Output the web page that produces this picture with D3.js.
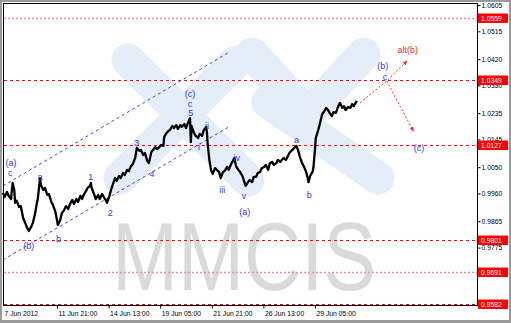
<!DOCTYPE html>
<html><head><meta charset="utf-8">
<script src="https://cdn.jsdelivr.net/npm/d3@7"></script>
<style>
html,body{margin:0;padding:0;background:#9a9a9a;}
svg{display:block;}
text{font-family:"Liberation Sans",Arial,sans-serif;}
</style></head>
<body>
<svg id="c" width="511" height="323"></svg>
<script>
// ---- data ----
const barIdx = [0,2,5,7,10,11,12,14,15,17,20,22,25,27,30,32,35,37,40,42,43,46,47,50,52,55,57,60,62,65,67,68,71,73,76,78,81,83,86,88,91,93,96,98,100,103,105,108,109,110,113,115,118,120,123,125,128,129,132,134,136,139,141,144,146,149,151,154,156,159,161,164,166,169,171,174,176,179,181,184,186,189,191,194,196,199,200,202,205,207,210,212,215,217,220,222,225,227,230,232,233,234,237,239,242,244,247,249,252,253,254,256,258,260,263,265,268,270,273,275,278,280,283,285,287,289,292,294,297,299,301,304,306,309,311,314,316,319,321,324,326,329,331,334,336,339,341,344,346,348,351,354,356,359,361,364,366,368,371,373,376,378,379,381,384,385,387,388,391,393,396,398,401,403,406,408,410,413,416,418,421,423,425,428,431,433,435,438,439];
const price = [0.9962,0.9948,0.9965,0.9952,0.9941,0.9972,0.9996,0.9972,0.9928,0.9935,0.9914,0.9917,0.9876,0.9863,0.9842,0.9832,0.9846,0.9859,0.9893,0.9928,0.9938,1.0013,0.9989,0.9972,0.9979,0.9955,0.9958,0.9931,0.9921,0.9897,0.9869,0.9852,0.9869,0.9893,0.9904,0.9917,0.9907,0.9924,0.9938,0.9924,0.9941,0.9931,0.9952,0.9941,0.9955,0.9969,0.9979,0.9986,0.9996,0.9979,0.9958,0.9941,0.9955,0.9941,0.9958,0.9948,0.9935,0.9928,0.9952,0.9972,0.9989,1.0013,1.0003,1.0020,1.0013,1.0030,1.0023,1.0041,1.0037,1.0054,1.0061,1.0082,1.0116,1.0106,1.0109,1.0092,1.0099,1.0071,1.0064,1.0102,1.0109,1.0119,1.0112,1.0119,1.0126,1.0123,1.0153,1.0164,1.0174,1.0177,1.0191,1.0184,1.0194,1.0181,1.0194,1.0188,1.0198,1.0184,1.0205,1.0218,1.0136,1.0191,1.0167,1.0157,1.0150,1.0164,1.0157,1.0177,1.0188,1.0167,1.0126,1.0075,1.0041,1.0027,1.0047,1.0041,1.0034,1.0013,1.0034,1.0037,1.0051,1.0041,1.0061,1.0071,1.0082,1.0054,1.0041,1.0034,1.0020,1.0003,0.9986,0.9999,1.0006,0.9999,1.0017,1.0017,1.0030,1.0034,1.0047,1.0051,1.0058,1.0041,1.0064,1.0068,1.0058,1.0064,1.0075,1.0068,1.0075,1.0082,1.0075,1.0092,1.0102,1.0109,1.0116,1.0123,1.0109,1.0088,1.0064,1.0054,1.0034,1.0013,0.9999,1.0020,1.0034,1.0047,1.0109,1.0150,1.0177,1.0198,1.0232,1.0239,1.0253,1.0246,1.0232,1.0225,1.0239,1.0236,1.0259,1.0270,1.0253,1.0259,1.0246,1.0256,1.0253,1.0266,1.0259,1.0273,1.0277];

const yTicks = [1.0605,1.0515,1.0420,1.0330,1.0235,1.0145,1.0050,0.9960,0.9865,0.9775,0.9685];
const xTickIdx = [0,67,131,195,259,323,387];
const xTickLabels = ["7 Jun 2012","11 Jun 21:00","14 Jun 13:00","19 Jun 05:00","21 Jun 21:00","26 Jun 13:00","29 Jun 05:00"];

const levels = [1.0559,1.0349,1.0127,0.9801,0.9691,0.9582];
const levelLight = [true,false,false,false,true,false];

// channel lines: [idx0, price0, idx1, price1]
const channelUpper = [0,0.9986,279,1.0441];
const channelLower = [0,0.9733,282,1.0191];

// projection paths (idx, price)
const projIdx = [443,476,501];
const projPrice = [1.0270,1.0345,1.0413];
const projAltIdx = [476,509];
const projAltPrice = [1.0345,1.0174];

// wave labels
const waveText = ["(a)","c","a","(b)","b","1","2","3","4","(c)","c","5","i","ii","iii","iv","v","(a)","a","b","(b)","c","(c)","alt(b)"];
const waveIdx  = [10,9,46,32,69,109,133,166,185,232,232,233,243,253,272,290,299,300,364,380,471,474,516,502];
const wavePrice= [1.0064,1.0030,1.0017,0.9781,0.9805,1.0017,0.9893,1.0133,1.0027,1.0301,1.0266,1.0236,1.0119,1.0191,0.9972,1.0082,0.9950,0.9897,1.0143,0.9955,1.0396,1.0359,1.0116,1.0451];
const waveRed  = [0,0,0,0,0,0,0,0,0,0,0,0,0,0,0,0,0,0,0,0,0,0,0,1];

// ---- drawing ----
const svg = d3.select("#c");
const x = d3.scaleLinear().domain([0,588]).range([3,477]);
const y = d3.scaleLinear().domain([0.9582,1.0605]).range([304,5]);

svg.append("rect").attr("x",2).attr("y",2).attr("width",507).attr("height",318).attr("fill","#fff");

// watermark logo (decoration)
const logo = svg.append("g").attr("stroke","#e4edf8").attr("stroke-width",33).attr("stroke-linecap","round").attr("fill","none");
[[128,60,248,180],[120,178,236,62],[252,54,300,106],[306,116,364,54],[268,102,378,178]].forEach(s=>{
  logo.append("line").attr("x1",s[0]).attr("y1",s[1]).attr("x2",s[2]).attr("y2",s[3]);
});
svg.append("text").attr("x",112).attr("y",290).attr("font-size",96).attr("fill","#dadada")
  .attr("textLength",264).attr("lengthAdjust","spacingAndGlyphs").text("MMCIS");

// horizontal levels
svg.append("g").selectAll("line").data(levels).join("line")
  .attr("x1",4).attr("x2",477).attr("y1",d=>Math.round(y(d))+0.5).attr("y2",d=>Math.round(y(d))+0.5)
  .attr("stroke",(d,i)=>levelLight[i]?"#ff8c8c":"#e81010")
  .attr("stroke-width",(d,i)=>levelLight[i]?1.4:1)
  .attr("stroke-dasharray",(d,i)=>levelLight[i]?"2,2":"3,3");

// channel
[channelUpper,channelLower].forEach(c=>{
  svg.append("line").attr("x1",x(c[0])).attr("y1",y(c[1])).attr("x2",x(c[2])).attr("y2",y(c[3]))
    .attr("stroke","#4040f0").attr("stroke-width",1).attr("stroke-dasharray","3,3");
});

// price line
const pts = barIdx.map((d,i)=>[d,price[i]]);
svg.append("path").datum(pts)
  .attr("d",d3.line().x(d=>x(d[0])).y(d=>y(d[1])))
  .attr("fill","none").attr("stroke","#000").attr("stroke-width",2.3).attr("stroke-linejoin","round");

// projections
const defs = svg.append("defs");
defs.append("marker").attr("id","ah").attr("viewBox","0 0 10 10").attr("refX",8).attr("refY",5)
  .attr("markerWidth",5).attr("markerHeight",5).attr("orient","auto")
  .append("path").attr("d","M0,1 L10,5 L0,9 z").attr("fill","#f03030");
const pl = d3.line().x(d=>x(d[0])).y(d=>y(d[1]));
svg.append("path").datum(projIdx.map((d,i)=>[d,projPrice[i]])).attr("d",pl)
  .attr("fill","none").attr("stroke","#f03030").attr("stroke-width",1).attr("stroke-dasharray","2,2").attr("marker-end","url(#ah)");
svg.append("path").datum(projAltIdx.map((d,i)=>[d,projAltPrice[i]])).attr("d",pl)
  .attr("fill","none").attr("stroke","#f03030").attr("stroke-width",1).attr("stroke-dasharray","2,2").attr("marker-end","url(#ah)");

// wave labels
svg.append("g").selectAll("text").data(waveText).join("text")
  .attr("x",(d,i)=>x(waveIdx[i])).attr("y",(d,i)=>y(wavePrice[i]))
  .attr("text-anchor","middle").attr("dominant-baseline","central")
  .attr("font-size",9).attr("fill",(d,i)=>waveRed[i]?"#ee2a2a":"#3636e0").text(d=>d);

// frame
svg.append("rect").attr("x",3.5).attr("y",3.5).attr("width",474).attr("height",302)
  .attr("fill","none").attr("stroke","#000").attr("stroke-width",1);

// y axis
const ya = svg.append("g").attr("transform","translate(477.5,0)")
  .call(d3.axisRight(y).tickValues(yTicks).tickSize(3).tickFormat(d3.format(".4f")));
ya.select(".domain").remove();
ya.selectAll("text").attr("font-size",6.8).attr("font-family","Liberation Sans, Arial, sans-serif").attr("fill","#000").attr("x",4);
ya.selectAll("line").attr("stroke","#000");

// level labels
const lg = svg.append("g").selectAll("g").data(levels).join("g")
  .attr("transform",d=>`translate(478,${Math.round(y(d))})`);
lg.append("rect").attr("x",0).attr("y",-4.5).attr("width",30).attr("height",9.5).attr("fill","#ff0000");
lg.append("text").attr("x",3).attr("y",0.5).attr("dominant-baseline","central")
  .attr("font-size",6.8).attr("fill","#fff").text(d=>d.toFixed(4));

// x axis
const xa = svg.append("g").attr("transform","translate(0,305.5)")
  .call(d3.axisBottom(x).tickValues(xTickIdx).tickSize(3).tickFormat((d,i)=>xTickLabels[i]));
xa.select(".domain").remove();
xa.selectAll("text").attr("font-size",6.8).attr("font-family","Liberation Sans, Arial, sans-serif")
  .attr("fill","#000").attr("text-anchor","start").attr("dx",1).attr("y",6);
xa.selectAll("line").attr("stroke","#000").attr("opacity",(d,i)=>i===0?0:1);
</script>
</body></html>
